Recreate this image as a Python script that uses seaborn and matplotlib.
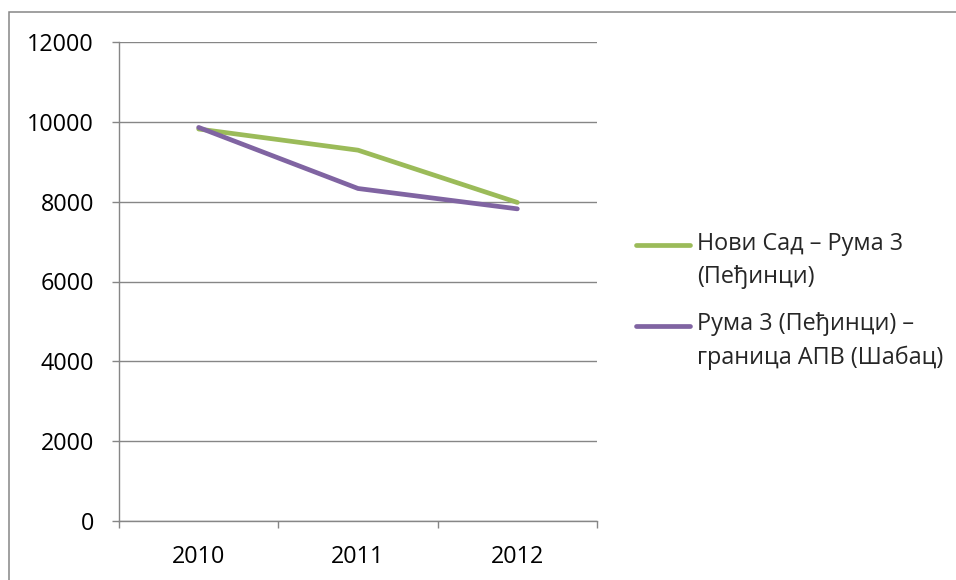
import pandas as pd
import matplotlib.pyplot as plt
import seaborn as sns
from matplotlib.lines import Line2D
from matplotlib.legend_handler import HandlerLine2D
from matplotlib.patches import Rectangle

years = [2010, 2011, 2012]
novi_sad_ruma = [9820, 9290, 7980]
ruma_granica = [9860, 8330, 7820]
series_names = ['Нови Сад – Рума 3\n(Пеђинци)', 'Рума 3 (Пеђинци) –\nграница АПВ (Шабац)']
colors = ['#9BBB59', '#8064A2']
y_ticks = [0, 2000, 4000, 6000, 8000, 10000, 12000]

df = pd.DataFrame({
    'year': years * 2,
    'value': novi_sad_ruma + ruma_granica,
    'series': [series_names[0]] * 3 + [series_names[1]] * 3,
})

sns.set_style('white')
plt.rcParams['font.family'] = ['Open Sans', 'DejaVu Sans']
FS = 16.8
GRAY = '#868686'


class RaisedLine(HandlerLine2D):
    # put the legend line level with the first line of a two-line label
    def create_artists(self, legend, orig_handle, xdescent, ydescent, width, height, fontsize, trans):
        return super().create_artists(legend, orig_handle, xdescent, ydescent - 23.4,
                                      width, height, fontsize, trans)


W, H = 956, 580
fig = plt.figure(figsize=(W / 100, H / 100), dpi=100)
ax = fig.add_axes([119 / W, 1 - 521 / H, (597 - 119) / W, (521 - 42) / H])

sns.lineplot(data=df, x='year', y='value', hue='series', palette=colors,
             linewidth=3.4, ax=ax, legend=True)

ax.set_xlim(2009.5, 2012.5)
ax.set_ylim(0, 12000)
ax.set_yticks(y_ticks)
ax.set_yticklabels([str(v) for v in y_ticks])
ax.set_xticks([2009.5, 2010.5, 2011.5, 2012.5])
ax.set_xticklabels([])
ax.set_xticks(years, minor=True)
ax.set_xticklabels([str(y) for y in years], minor=True)
ax.tick_params(axis='x', which='major', length=5, width=1, color=GRAY, direction='out', bottom=True)
ax.tick_params(axis='x', which='minor', length=0, pad=17.5, labelsize=FS, labelcolor='black')
ax.tick_params(axis='y', which='major', length=5, width=1, color=GRAY, direction='out', left=True,
               pad=13, labelsize=FS, labelcolor='black')
ax.set_xlabel('')
ax.set_ylabel('')

ax.grid(axis='y', color=GRAY, linewidth=1.0)
ax.set_axisbelow(True)
for side in ['top', 'right']:
    ax.spines[side].set_visible(False)
for side in ['left', 'bottom']:
    ax.spines[side].set_color(GRAY)
    ax.spines[side].set_linewidth(1.0)

handles, labels = ax.get_legend_handles_labels()
ax.get_legend().remove()
leg = fig.legend(handles, labels, loc='upper left', bbox_to_anchor=(636 / W, 1 - 232 / H),
                 frameon=False, borderpad=0, borderaxespad=0, handlelength=2.3,
                 handletextpad=0.3, labelspacing=1.0, fontsize=FS,
                 handler_map={Line2D: RaisedLine()})
for t in leg.get_texts():
    t.set_linespacing(1.5)

# outer chart border (only top and left edges show in the crop)
fig.patches.append(Rectangle((9 / W, -0.1), 1.2, 1.1 - 12 / H, transform=fig.transFigure,
                             fill=False, edgecolor=GRAY, linewidth=1.1))

fig.savefig('out.png', dpi=100)
